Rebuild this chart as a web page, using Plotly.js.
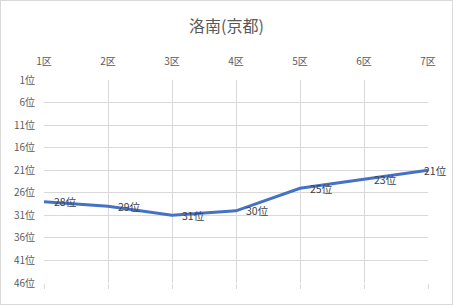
<!DOCTYPE html>
<html><head><meta charset="utf-8">
<script src="https://cdn.plot.ly/plotly-3.0.1.min.js"></script>
<style>html,body{margin:0;padding:0;background:#fff}#c{width:453px;height:305px;box-sizing:border-box;border:1px solid #d9d9d9}</style>
</head><body><div id="c"></div>
<script>
const categories = ["1区","2区","3区","4区","5区","6区","7区"];
const ranks = [28, 29, 31, 30, 25, 23, 21];
const yTickVals = [1,6,11,16,21,26,31,36,41,46];
const yTickText = yTickVals.map(v => v + "位");
const labels = ranks.map(v => v + "位");
const font = "'Noto Sans CJK JP', 'Noto Sans', sans-serif";
const trace = {
  x: categories, y: ranks, mode: "lines",
  line: {color: "#4472C4", width: 3}, hoverinfo: "none"
};
const trace2 = {x: categories, y: ranks, xaxis: "x2", mode: "lines", line: {width: 0}, opacity: 0, hoverinfo: "none", showlegend: false};
const annotations = categories.map((c, i) => ({
  x: c, y: ranks[i], xref: "x", yref: "y", text: labels[i], showarrow: false,
  xanchor: "left", yanchor: "middle", xshift: i === categories.length - 1 ? -6 : 8, yshift: 0,
  font: {family: font, size: 10.5, color: "#404040"}
}));
const layout = {
  width: 451, height: 303,
  margin: {l: 43, r: 24, t: 79, b: 21},
  paper_bgcolor: "#fff", plot_bgcolor: "#fff",
  showlegend: false, annotations: annotations,
  title: {text: "洛南(京都)", font: {family: font, size: 16, color: "#595959"}, x: 0.5, xanchor: "center", y: 0.915, yanchor: "middle"},
  xaxis: {type: "category", side: "top", range: [0, 6], showgrid: true, gridcolor: "#d9d9d9", gridwidth: 1,
    zeroline: false, showline: false, ticks: "", ticklabelstandoff: 12,
    tickfont: {family: font, size: 10, color: "#595959"}},
  xaxis2: {type: "category", overlaying: "x", side: "bottom", range: [0, 6], showgrid: false, showline: false,
    ticks: "outside", ticklen: 5, tickcolor: "#d9d9d9", showticklabels: false, zeroline: false},
  yaxis: {range: [46, 1], tickvals: yTickVals, ticktext: yTickText, showgrid: true, gridcolor: "#d9d9d9",
    zeroline: false, showline: false, ticks: "", ticklabelstandoff: 8,
    tickfont: {family: font, size: 10, color: "#595959"}}
};
Plotly.newPlot("c", [trace, trace2], layout, {displayModeBar: false, staticPlot: true});
</script></body></html>
